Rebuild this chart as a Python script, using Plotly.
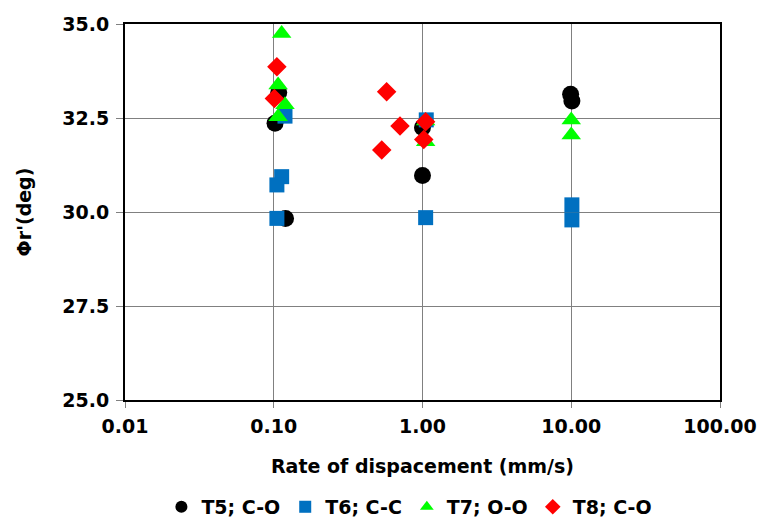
import plotly.graph_objects as go

# Residual friction angle vs. rate of displacement, four test series
t5_x = [0.102, 0.108, 0.12, 1.0, 1.0, 9.9, 10.1]
t5_y = [32.36, 33.18, 29.83, 32.25, 30.97, 33.13, 32.95]

t6_x = [0.119, 0.113, 0.105, 0.105, 1.06, 1.05, 10.1, 10.1]
t6_y = [32.55, 30.94, 30.72, 29.83, 32.45, 29.85, 30.19, 29.79]

t7_x = [0.113, 0.107, 0.119, 0.107, 1.05, 1.05, 10.0, 10.0]
t7_y = [34.75, 33.38, 32.85, 32.53, 32.42, 31.87, 32.45, 32.05]

t8_x = [0.105, 0.101, 0.574, 0.706, 0.532, 1.05, 1.02]
t8_y = [33.86, 33.02, 33.20, 32.29, 31.65, 32.40, 31.93]

x_ticks = [0.01, 0.1, 1, 10, 100]
x_tick_text = ["0.01", "0.10", "1.00", "10.00", "100.00"]
y_ticks = [25.0, 27.5, 30.0, 32.5, 35.0]

FONT = "DejaVu Sans, Arial, sans-serif"
FS = 19

fig = go.Figure()
series = [
    ("T5; C-O", t5_x, t5_y, "circle", "#000000", 17),
    ("T6; C-C", t6_x, t6_y, "square", "#0070C0", 15),
    ("T7; O-O", t7_x, t7_y, "triangle-up", "#00FF00", 17),
    ("T8; C-O", t8_x, t8_y, "diamond", "#FF0000", 15),
]
for name, xs, ys, sym, col, sz in series:
    fig.add_trace(go.Scatter(
        x=xs, y=ys, mode="markers", name=name,
        marker=dict(symbol=sym, color=col, size=sz, line=dict(width=0)),
    ))

fig.update_layout(
    width=760, height=521,
    margin=dict(l=125, r=40, t=24, b=121),
    paper_bgcolor="white", plot_bgcolor="white",
    font=dict(family=FONT, size=FS, color="#000000"),
    legend=dict(
        orientation="h", x=0.478, xanchor="center",
        yref="container", y=0.027, yanchor="middle",
        font=dict(family=FONT, size=FS, color="#000000", weight="bold"),
        itemsizing="constant", itemwidth=30, tracegroupgap=0,
    ),
)
fig.update_xaxes(
    type="log", range=[-2, 2], automargin=False,
    tickvals=x_ticks, ticktext=x_tick_text,
    tickfont=dict(family=FONT, size=FS, weight="bold"),
    showgrid=True, gridcolor="#808080", gridwidth=1,
    showline=True, linecolor="#000000", linewidth=2, mirror=True,
    ticks="outside", tickcolor="#808080", ticklen=6, tickwidth=1,
    ticklabelstandoff=2,
    title=dict(text="Rate of dispacement (mm/s)", standoff=24,
               font=dict(family=FONT, size=FS, weight="bold")),
    zeroline=False,
)
fig.update_yaxes(
    range=[25, 35], tickvals=y_ticks, tickformat=".1f", automargin=False,
    tickfont=dict(family=FONT, size=FS, weight="bold"),
    showgrid=True, gridcolor="#808080", gridwidth=1,
    showline=True, linecolor="#000000", linewidth=2, mirror=True,
    ticks="outside", tickcolor="#808080", ticklen=7, tickwidth=1,
    ticklabelstandoff=3,
    title=dict(text="Φr'(deg)", standoff=26,
               font=dict(family=FONT, size=FS, weight="bold")),
    zeroline=False,
)

fig.write_html("out.html")
